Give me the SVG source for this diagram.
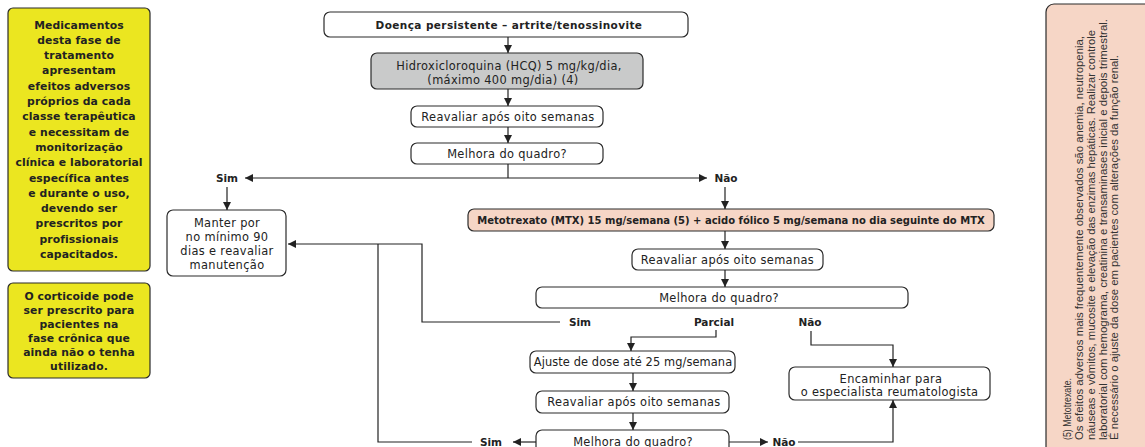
<svg xmlns="http://www.w3.org/2000/svg" width="1145" height="447" viewBox="0 0 1145 447">
<style>
.box{fill:#fff;stroke:#2b2b2b;stroke-width:1.2}
.yel{fill:#ebe620;stroke:#2b2b2b;stroke-width:1.2}
.gray{fill:#c9caca;stroke:#2b2b2b;stroke-width:1.2}
.peach{fill:#f6d6c6;stroke:#2b2b2b;stroke-width:1.2}
.t{font-family:"DejaVu Sans",sans-serif;font-size:11.4px;letter-spacing:0.35px;fill:#222;text-anchor:middle;dominant-baseline:central}
.b{font-family:"DejaVu Sans",sans-serif;font-size:10.5px;font-weight:bold;fill:#222;text-anchor:middle;dominant-baseline:central}
.b2{font-family:"DejaVu Sans",sans-serif;font-size:10.5px;letter-spacing:0.4px;font-weight:bold;fill:#222;text-anchor:middle;dominant-baseline:central}
.bm{font-family:"DejaVu Sans",sans-serif;font-size:10px;font-weight:bold;fill:#222;text-anchor:middle;dominant-baseline:central}
.yb{font-family:"DejaVu Sans",sans-serif;font-size:10.8px;letter-spacing:0.1px;font-weight:bold;fill:#222;text-anchor:middle;dominant-baseline:central}
.side{font-family:"Liberation Sans",sans-serif;font-size:10px;fill:#333}
.ln{fill:none;stroke:#222;stroke-width:1.2}
</style>
<defs>
<marker id="ah" viewBox="0 0 10 10" refX="10" refY="5" markerWidth="8" markerHeight="8" markerUnits="userSpaceOnUse" orient="auto">
<path d="M0,0 L10,5 L0,10 z" fill="#222"/>
</marker>
</defs>

<g id="note1">
<rect class="yel" x="8" y="8" width="142" height="263" rx="5"/>
<text class="yb" x="79" y="25">Medicamentos</text>
<text class="yb" x="79" y="40.3">desta fase de</text>
<text class="yb" x="79" y="55.6">tratamento</text>
<text class="yb" x="79" y="70.9">apresentam</text>
<text class="yb" x="79" y="86.2">efeitos adversos</text>
<text class="yb" x="79" y="101.5">próprios da cada</text>
<text class="yb" x="79" y="116.8">classe terapêutica</text>
<text class="yb" x="79" y="132.1">e necessitam de</text>
<text class="yb" x="79" y="147.4">monitorização</text>
<text class="yb" x="79" y="162.7">clínica e laboratorial</text>
<text class="yb" x="79" y="178">específica antes</text>
<text class="yb" x="79" y="193.3">e durante o uso,</text>
<text class="yb" x="79" y="208.6">devendo ser</text>
<text class="yb" x="79" y="223.9">prescritos por</text>
<text class="yb" x="79" y="239.2">profissionais</text>
<text class="yb" x="79" y="254.5">capacitados.</text>
</g>

<g id="note2">
<rect class="yel" x="8" y="283" width="142" height="95" rx="5"/>
<text class="yb" x="79" y="296">O corticoide pode</text>
<text class="yb" x="79" y="310">ser prescrito para</text>
<text class="yb" x="79" y="324">pacientes na</text>
<text class="yb" x="79" y="338">fase crônica que</text>
<text class="yb" x="79" y="352">ainda não o tenha</text>
<text class="yb" x="79" y="366">utilizado.</text>
</g>

<g id="side-note">
<rect class="peach" x="1046" y="4" width="120" height="460" rx="8"/>
<text class="side" transform="translate(1071,440) rotate(-90)" textLength="62" lengthAdjust="spacingAndGlyphs">(5) Metotrexate.</text>
<text class="side" transform="translate(1083,440) rotate(-90)" textLength="404" lengthAdjust="spacingAndGlyphs">Os efeitos adversos mais frequentemente observados são anemia, neutropenia,</text>
<text class="side" transform="translate(1095,440) rotate(-90)" textLength="410" lengthAdjust="spacingAndGlyphs">náuseas e vômitos, mucosite e elevação das enzimas hepáticas. Realizar controle</text>
<text class="side" transform="translate(1106.5,440) rotate(-90)" textLength="421" lengthAdjust="spacingAndGlyphs">laboratorial com hemograma, creatinina e transaminases inicial e depois trimestral.</text>
<text class="side" transform="translate(1118,440) rotate(-90)" textLength="385" lengthAdjust="spacingAndGlyphs">É necessário o ajuste da dose em pacientes com alterações da função renal.</text>
</g>

<g id="n-doenca">
<rect class="box" x="324" y="12" width="364" height="25" rx="6"/>
<text class="b2" x="509" y="24.5">Doença persistente – artrite/tenossinovite</text>
</g>
<g id="n-hcq">
<rect class="gray" x="371" y="53" width="272" height="36" rx="6"/>
<text class="t" x="509" y="66">Hidroxicloroquina (HCQ) 5 mg/kg/dia,</text>
<text class="t" x="503" y="79.5">(máximo 400 mg/dia) (4)</text>
</g>
<g id="n-reav1">
<rect class="box" x="411" y="106" width="192" height="21" rx="6"/>
<text class="t" x="508" y="116.5">Reavaliar após oito semanas</text>
</g>
<g id="n-melh1">
<rect class="box" x="411" y="143" width="192" height="21" rx="6"/>
<text class="t" x="507" y="153.5">Melhora do quadro?</text>
</g>
<g id="l-sim1"><text class="b" x="227" y="178">Sim</text></g>
<g id="l-nao1"><text class="b" x="726" y="178">Não</text></g>
<g id="n-manter">
<rect class="box" x="167" y="210" width="119" height="66" rx="6"/>
<text class="t" x="227" y="223">Manter por</text>
<text class="t" x="227" y="237">no mínimo 90</text>
<text class="t" x="227" y="251">dias e reavaliar</text>
<text class="t" x="227" y="264.5">manutenção</text>
</g>
<g id="n-mtx">
<rect class="peach" x="468" y="209" width="526" height="22" rx="6"/>
<text class="bm" x="731" y="220">Metotrexato (MTX) 15 mg/semana (5) + acido fólico 5 mg/semana no dia seguinte do MTX</text>
</g>
<g id="n-reav2">
<rect class="box" x="632" y="249" width="191" height="21" rx="6"/>
<text class="t" x="727.5" y="259.5">Reavaliar após oito semanas</text>
</g>
<g id="n-melh2">
<rect class="box" x="536" y="287" width="372" height="21" rx="6"/>
<text class="t" x="719" y="297.5">Melhora do quadro?</text>
</g>
<g id="l-sim2"><text class="b" x="580" y="322">Sim</text></g>
<g id="l-parcial"><text class="b" x="714" y="322">Parcial</text></g>
<g id="l-nao2"><text class="b" x="810" y="322">Não</text></g>
<g id="n-ajuste">
<rect class="box" x="530" y="351" width="205" height="22" rx="6"/>
<text class="t" x="633" y="362" style="letter-spacing:0.1px">Ajuste de dose até 25 mg/semana</text>
</g>
<g id="n-reav3">
<rect class="box" x="536" y="391" width="193" height="22" rx="6"/>
<text class="t" x="634" y="402">Reavaliar após oito semanas</text>
</g>
<g id="n-melh3">
<rect class="box" x="536" y="430" width="193" height="25" rx="6"/>
<text class="t" x="633" y="441.5">Melhora do quadro?</text>
</g>
<g id="l-sim3"><text class="b" x="491" y="442">Sim</text></g>
<g id="l-nao3"><text class="b" x="784" y="442">Não</text></g>
<g id="n-encaminhar">
<rect class="box" x="789" y="367" width="201" height="33" rx="6"/>
<text class="t" x="891" y="379">Encaminhar para</text>
<text class="t" x="889.5" y="392">o especialista reumatologista</text>
</g>

<g id="connectors">
<line class="ln" x1="508" y1="37" x2="508" y2="53" marker-end="url(#ah)"/>
<line class="ln" x1="508" y1="89" x2="508" y2="106" marker-end="url(#ah)"/>
<line class="ln" x1="508" y1="127" x2="508" y2="143" marker-end="url(#ah)"/>
<line class="ln" x1="508" y1="164" x2="508" y2="178"/>
<line class="ln" x1="508" y1="178" x2="245" y2="178" marker-end="url(#ah)"/>
<line class="ln" x1="508" y1="178" x2="707" y2="178" marker-end="url(#ah)"/>
<line class="ln" x1="227" y1="187" x2="227" y2="210" marker-end="url(#ah)"/>
<line class="ln" x1="725" y1="187" x2="725" y2="209" marker-end="url(#ah)"/>
<line class="ln" x1="725" y1="231" x2="725" y2="249" marker-end="url(#ah)"/>
<line class="ln" x1="725" y1="270" x2="725" y2="287" marker-end="url(#ah)"/>
<polyline class="ln" points="560,322 422,322 422,244 288,244" marker-end="url(#ah)"/>
<polyline class="ln" points="472,442 378,442 378,244"/>
<polyline class="ln" points="716,330 716,337 631,337 631,351" marker-end="url(#ah)"/>
<line class="ln" x1="633" y1="373" x2="633" y2="391" marker-end="url(#ah)"/>
<line class="ln" x1="633" y1="413" x2="633" y2="430" marker-end="url(#ah)"/>
<line class="ln" x1="536" y1="442" x2="513" y2="442" marker-end="url(#ah)"/>
<line class="ln" x1="729" y1="442" x2="768" y2="442" marker-end="url(#ah)"/>
<polyline class="ln" points="798,442 893,442 893,400" marker-end="url(#ah)"/>
<polyline class="ln" points="811,331 811,345 893,345 893,367" marker-end="url(#ah)"/>
</g>
</svg>
